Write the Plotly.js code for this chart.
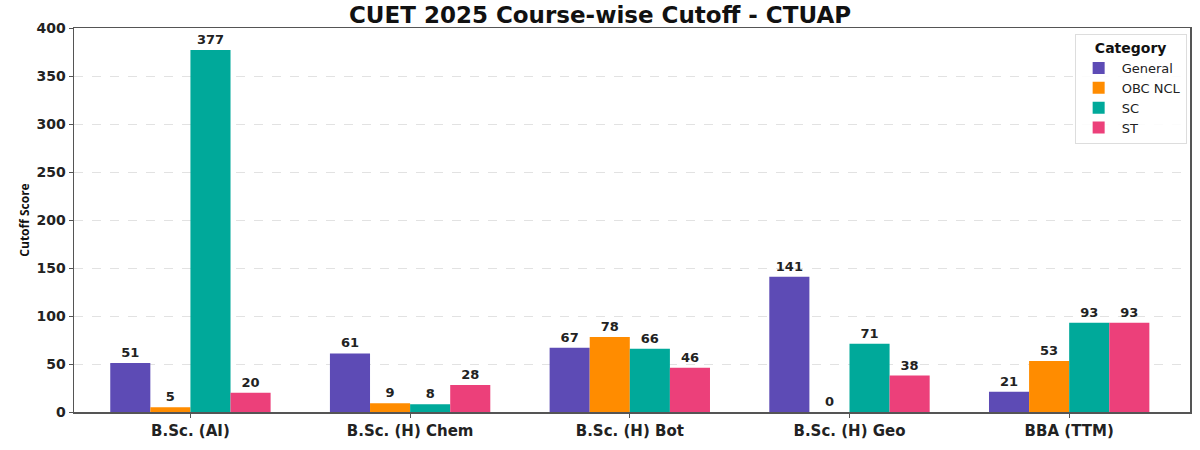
<!DOCTYPE html>
<html>
<head>
<meta charset="utf-8">
<script src="https://cdn.plot.ly/plotly-3.0.1.min.js"></script>
<style>html,body{margin:0;padding:0;background:#fff;}#chart{width:1200px;height:450px;}</style>
</head>
<body>
<div id="chart"></div>
<script>
const courses = ["B.Sc. (AI)", "B.Sc. (H) Chem", "B.Sc. (H) Bot", "B.Sc. (H) Geo", "BBA (TTM)"];
const categories = ["General", "OBC NCL", "SC", "ST"];
const general = [51, 61, 67, 141, 21];
const obcNcl = [5, 9, 78, 0, 53];
const sc = [377, 8, 66, 71, 93];
const st = [20, 28, 46, 38, 93];
const seriesValues = [general, obcNcl, sc, st];
const colors = ["#5D4BB5", "#FF8C00", "#00A99A", "#EC407A"];

const WIDE = "'DejaVu Sans', Verdana, sans-serif";
const NARROW = "'Open Sans', sans-serif";
const traces = categories.map((name, i) => ({
  type: "bar",
  name: name,
  x: courses,
  y: seriesValues[i],
  text: seriesValues[i].map(String),
  textposition: "outside",
  cliponaxis: false,
  textfont: {family: WIDE, size: 13, color: "#222", weight: 700},
  marker: {color: colors[i], line: {width: 0}},
  hoverinfo: "x+y+name"
}));

const layout = {
  width: 1200, height: 450,
  margin: {l: 74, r: 10, t: 28, b: 38},
  paper_bgcolor: "#fff", plot_bgcolor: "#fff",
  font: {family: WIDE, size: 13, color: "#222"},
  title: {text: "CUET 2025 Course-wise Cutoff - CTUAP", x: 0.5, xanchor: "center", y: 0.967, yanchor: "middle",
          font: {family: WIDE, size: 23, color: "#111", weight: 700}},
  barmode: "group", bargap: 0.27, bargroupgap: 0,
  xaxis: {
    range: [-0.53, 4.55], showline: true, linecolor: "#555", linewidth: 1.5, mirror: true,
    ticks: "outside", ticklen: 4, tickcolor: "#555",
    tickfont: {family: WIDE, size: 15, color: "#222", weight: 700}, showgrid: false, zeroline: false
  },
  yaxis: {
    range: [0, 400], dtick: 50, showline: true, linecolor: "#555", linewidth: 1.5, mirror: true,
    ticks: "outside", ticklen: 4, tickcolor: "#555",
    tickfont: {family: WIDE, size: 14, color: "#222", weight: 700},
    showgrid: true, gridcolor: "#e2e2e2", griddash: "dash", gridwidth: 1, zeroline: false,
    title: {text: "Cutoff Score", standoff: 4, font: {family: NARROW, size: 12, color: "#111", weight: 700}}
  },
  legend: {
    x: 0.997, y: 0.985, xanchor: "right", yanchor: "top",
    bgcolor: "rgba(255,255,255,0.9)", bordercolor: "#ddd", borderwidth: 1,
    title: {text: "Category", side: "top center", font: {family: WIDE, size: 14, color: "#111", weight: 700}},
    font: {family: WIDE, size: 13, color: "#222"},
    itemwidth: 36, tracegroupgap: 0
  },
  showlegend: true
};

Plotly.newPlot("chart", traces, layout, {displayModeBar: false, staticPlot: true});
</script>
</body>
</html>
